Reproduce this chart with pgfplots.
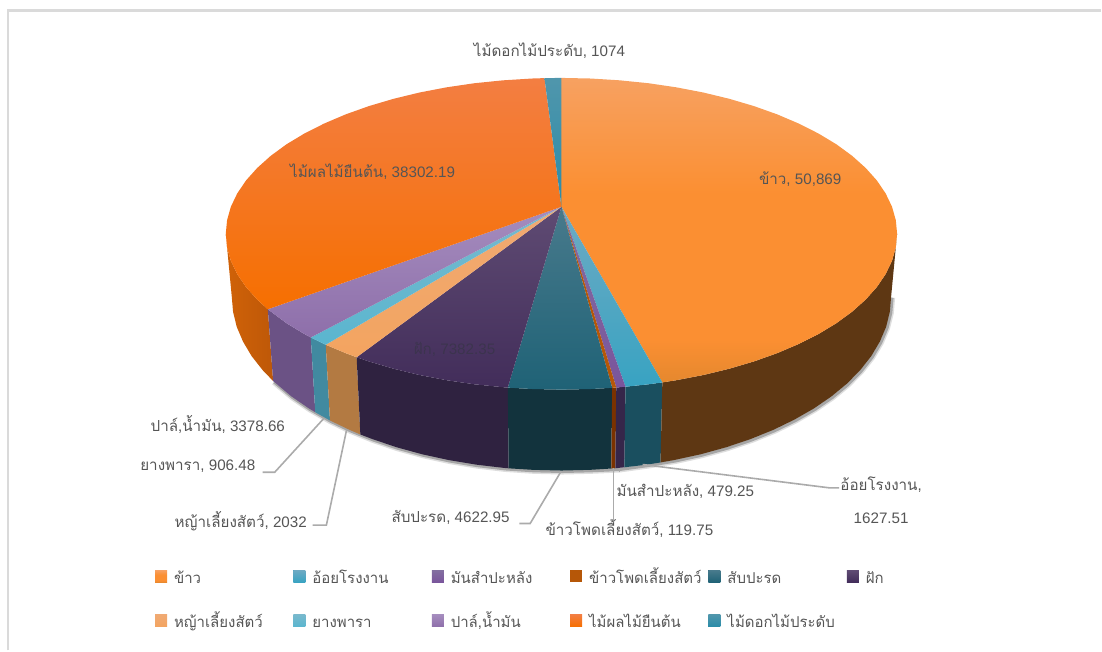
\documentclass[border=0pt]{standalone}
\usepackage{fontspec}
\setmainfont{Liberation Sans}
\newfontfamily\thaifont[Script=Thai]{Loma}
\newcommand{\thai}[1]{{\thaifont #1}}
\usepackage{pgfplots}
\pgfplotsset{compat=1.18}

\definecolor{lbl}{HTML}{555555}
\definecolor{lead}{HTML}{ABABAB}
\definecolor{frame}{HTML}{DADADA}
% legend swatches
\definecolor{cRice}{HTML}{F79646}
\definecolor{cCane}{HTML}{35A3C6}
\definecolor{cCass}{HTML}{7A559C}
\definecolor{cCorn}{HTML}{B65708}
\definecolor{cPine}{HTML}{215F75}
\definecolor{cPod}{HTML}{4F3566}
\definecolor{cGrass}{HTML}{FAAB6C}
\definecolor{cRubb}{HTML}{6CC0D6}
\definecolor{cPalm}{HTML}{A286BC}
\definecolor{cOrch}{HTML}{F96B07}
\definecolor{cFlow}{HTML}{2E88A6}
% walls
\definecolor{wOrchA}{HTML}{D06208}
\definecolor{wOrchB}{HTML}{BE5808}
\definecolor{wPalm}{HTML}{6B5285}
\definecolor{wRubb}{HTML}{418AA0}
\definecolor{wGrass}{HTML}{B37A42}
\definecolor{wPod}{HTML}{2F2240}
\definecolor{wPine}{HTML}{12333D}
\definecolor{wCorn}{HTML}{7A3200}
\definecolor{wCass}{HTML}{36264A}
\definecolor{wCane}{HTML}{1A4F5F}
\definecolor{wRice}{HTML}{5E3713}
% top faces, upper and lower shade
\definecolor{tRiceA}{HTML}{F7A161}
\definecolor{tRiceB}{HTML}{FB8F32}
\definecolor{tRiceC}{HTML}{E5882E}
\definecolor{tCaneA}{HTML}{6EAAC3}
\definecolor{tCaneB}{HTML}{38A3C2}
\definecolor{tCassA}{HTML}{826EA0}
\definecolor{tCassB}{HTML}{7A559C}
\definecolor{tPineA}{HTML}{487A8C}
\definecolor{tPineB}{HTML}{1F6276}
\definecolor{tPodA}{HTML}{5F4B73}
\definecolor{tPodB}{HTML}{422D5A}
\definecolor{tGrassA}{HTML}{F0AA73}
\definecolor{tGrassB}{HTML}{F3A460}
\definecolor{tRubbA}{HTML}{78B9CD}
\definecolor{tRubbB}{HTML}{5AB6CF}
\definecolor{tPalmA}{HTML}{A58CBE}
\definecolor{tPalmB}{HTML}{8E6FAA}
\definecolor{tOrchA}{HTML}{F37E42}
\definecolor{tOrchB}{HTML}{F87000}
\definecolor{tOrchC}{HTML}{F66F00}
\definecolor{tFlowA}{HTML}{5096AC}
\definecolor{tFlowB}{HTML}{2A8CA8}
\definecolor{podText}{HTML}{3C344E}

% the rice face stays saturated until close to its front rim
\pgfdeclareverticalshading{riceface}{100bp}{
  color(0bp)=(tRiceC); color(25bp)=(tRiceC); color(32bp)=(tRiceB);
  color(56bp)=(tRiceB); color(75bp)=(tRiceA); color(100bp)=(tRiceA)}

\pgfplotsset{
  face/.style={draw=none, no markers},
  wall/.style={draw=none, no markers, forget plot, fill=#1},
  leg/.style={legend image code/.code={\fill[fill=#1] (0pt,-6pt) rectangle (12pt,6pt);}},
  leader/.style={draw=lead, line width=1.6pt, no markers, forget plot},
}
\newcommand{\entry}[1]{\addlegendentry{\makebox[122.5pt][l]{\rule[-5pt]{0pt}{20pt}\hspace*{5pt}\thai{#1}}}}

\begin{document}
\begin{tikzpicture}
\begin{axis}[
    scale only axis, width=1102pt, height=651pt,
    xmin=0, xmax=1102, ymin=0, ymax=651, y dir=reverse,
    hide axis, clip=false,
    legend columns=6,
    legend style={
      at={(axis cs:152,564)}, anchor=north west, draw=none, fill=none,
      font=\fontsize{15}{17}\selectfont, text=lbl,
      /tikz/row sep=23pt, /tikz/column sep=0pt,
      cells={anchor=west},
    },
]
% keep the whole 1102x651 canvas as the page
\path (axis cs:0,0) (axis cs:1102,651);

% frame of the screenshot
\addplot[draw=frame, line width=2.2pt, no markers, forget plot]
  coordinates {(8,651) (8,10.5) (1102,10.5)};

% drop shadow under the body
\addplot[draw=black, draw opacity=.13, line width=6pt, no markers, forget plot, xshift=1pt, yshift=-1pt] coordinates {
  (892,297) (890.7,312.2) (887,327.2) (880.7,342) (872.1,356.5) (861.1,370.5) (847.8,384)
  (832.3,396.8) (814.8,408.8) (795.3,420) (774.1,430.3) (751.3,439.5) (727,447.7) (701.5,454.7)
  (674.9,460.5) (647.4,465.1) (619,469) (590.8,470.3) (562,471) (533.2,470.3) (504.7,468.4)
  (476.6,465.1) (449.1,460.5) (422.5,454.7) (397,447.7) (372.7,439.5) (349.9,430.3) (330.3,420.9)
  (309.2,408.8) (291.7,396.8) (273.4,381.4)};
\addplot[draw=black, draw opacity=.25, line width=3pt, no markers, forget plot, xshift=1pt, yshift=-1pt] coordinates {
  (892,297) (890.7,312.2) (887,327.2) (880.7,342) (872.1,356.5) (861.1,370.5) (847.8,384)
  (832.3,396.8) (814.8,408.8) (795.3,420) (774.1,430.3) (751.3,439.5) (727,447.7) (701.5,454.7)
  (674.9,460.5) (647.4,465.1) (619,469) (590.8,470.3) (562,471) (533.2,470.3) (504.7,468.4)
  (476.6,465.1) (449.1,460.5) (422.5,454.7) (397,447.7) (372.7,439.5) (349.9,430.3) (330.3,420.9)
  (309.2,408.8) (291.7,396.8) (273.4,381.4)};

% side walls, left to right
\addplot[draw=none, no markers, forget plot, left color=wOrchA, right color=wOrchB] coordinates {
  (268.1,309.6) (257.5,299.9) (246.3,287.4) (237.5,274.4) (231.1,261.1) (227.3,247.6) (226,234)
  (232,297) (233.3,312.2) (237,327.2) (243.3,342) (251.9,356.5) (262.9,370.5) (273.4,381.4)};
\addplot[wall=wPalm] coordinates {
  (311.1,337.8) (304.6,334.3) (286.7,323.5) (268.1,309.6) (273.4,381.4) (291.7,396.8) (309.2,408.8) (315.6,412.7)};
\addplot[wall=wRubb] coordinates {
  (326.1,345.1) (311.1,337.8) (315.6,412.7) (330.3,420.9)};
\addplot[wall=wGrass] coordinates {
  (357,357.6) (346,353.5) (326.1,345.1) (330.3,420.9) (349.9,430.3) (360.7,434.9)};
\addplot[wall=wPod] coordinates {
  (508.3,388) (503.7,387.6) (475,384.7) (447.1,380.6) (420,375.4) (394,369.1) (369.3,361.8) (357,357.6)
  (360.7,434.9) (372.7,439.5) (397,447.7) (422.5,454.7) (449.1,460.5) (476.6,465.1) (504.7,468.4) (509.2,468.8)};
\addplot[wall=wPine] coordinates {
  (612.8,388.2) (591.3,389.4) (562,390) (532.7,389.4) (508.3,388)
  (509.2,468.8) (533.2,470.3) (562,471) (590.8,470.3) (611.9,469)};
\addplot[wall=wCorn] coordinates {
  (616.9,387.9) (612.8,388.2) (611.9,469) (615.9,468.7)};
\addplot[wall=wCass] coordinates {
  (626.1,387.1) (616.9,387.9) (615.9,468.7) (625,467.8)};
\addplot[wall=wCane] coordinates {
  (663,382.8) (649,384.7) (626.1,387.1) (625,467.8) (647.4,465.1) (661.2,462.9)};
\addplot[wall=wRice] coordinates {
  (898,234) (896.7,247.6) (892.9,261.1) (886.5,274.4) (877.7,287.4) (866.5,299.9) (853,312)
  (837.3,323.5) (819.4,334.3) (799.6,344.3) (778,353.5) (754.7,361.8) (730,369.1) (704,375.4)
  (676.9,380.6) (663,382.8)
  (661.2,462.9) (674.9,460.5) (701.5,454.7) (727,447.7) (751.3,439.5) (774.1,430.3) (795.3,420)
  (814.8,408.8) (832.3,396.8) (847.8,384) (861.1,370.5) (872.1,356.5) (880.7,342) (887,327.2)
  (890.7,312.2) (892,297)};

% top faces, clockwise from twelve o'clock
\addplot[face, leg=cRice, shade, shading=riceface] coordinates {
  (562,207) (562,78) (591.3,78.6) (620.3,80.4) (649,83.3) (676.9,87.4) (704,92.6) (730,98.9)
  (754.7,106.2) (778,114.5) (799.6,123.7) (819.4,133.7) (837.3,144.5) (853,156) (866.5,168.1)
  (877.7,180.6) (886.5,193.6) (892.9,206.9) (896.7,220.4) (898,234) (896.7,247.6) (892.9,261.1)
  (886.5,274.4) (877.7,287.4) (866.5,299.9) (853,312) (837.3,323.5) (819.4,334.3) (799.6,344.3)
  (778,353.5) (754.7,361.8) (730,369.1) (704,375.4) (676.9,380.6) (663,382.8)};
\entry{ข้าว}
\addplot[face, leg=cCane, top color=tCaneA, bottom color=tCaneB] coordinates {
  (562,207) (663,382.8) (649,384.7) (626.1,387.1)};
\entry{อ้อยโรงงาน}
\addplot[face, leg=cCass, top color=tCassA, bottom color=tCassB] coordinates {
  (562,207) (626.1,387.1) (616.9,387.9)};
\entry{มันสำปะหลัง}
\addplot[face, leg=cCorn, fill=cCorn] coordinates {
  (562,207) (616.9,387.9) (612.8,388.2)};
\entry{ข้าวโพดเลี้ยงสัตว์}
\addplot[face, leg=cPine, top color=tPineA, bottom color=tPineB] coordinates {
  (562,207) (612.8,388.2) (591.3,389.4) (562,390) (532.7,389.4) (508.3,388)};
\entry{สับปะรด}
\addplot[face, leg=cPod, top color=tPodA, bottom color=tPodB] coordinates {
  (562,207) (508.3,388) (503.7,387.6) (475,384.7) (447.1,380.6) (420,375.4) (394,369.1) (369.3,361.8) (357,357.6)};
\entry{ฝัก}
\addplot[face, leg=cGrass, top color=tGrassA, bottom color=tGrassB] coordinates {
  (562,207) (357,357.6) (346,353.5) (326.1,345.1)};
\entry{หญ้าเลี้ยงสัตว์}
\addplot[face, leg=cRubb, top color=tRubbA, bottom color=tRubbB] coordinates {
  (562,207) (326.1,345.1) (311.1,337.8)};
\entry{ยางพารา}
\addplot[face, leg=cPalm, top color=tPalmA, bottom color=tPalmB] coordinates {
  (562,207) (311.1,337.8) (304.6,334.3) (286.7,323.5) (268.1,309.6)};
\entry{ปาล์,น้ำมัน}
\addplot[face, leg=cOrch, top color=tOrchA, middle color=tOrchB, bottom color=tOrchC] coordinates {
  (562,207) (268.1,309.6) (257.5,299.9) (246.3,287.4) (237.5,274.4) (231.1,261.1) (227.3,247.6) (226,234)
  (227.3,220.4) (231.1,206.9) (237.5,193.6) (246.3,180.6) (257.5,168.1) (271,156) (286.7,144.5)
  (304.6,133.7) (324.4,123.7) (346,114.5) (369.3,106.2) (394,98.9) (420,92.6) (447.1,87.4)
  (475,83.3) (503.7,80.4) (532.7,78.6) (545,78.2)};
\entry{ไม้ผลไม้ยืนต้น}
\addplot[face, leg=cFlow, top color=tFlowA, bottom color=tFlowB] coordinates {
  (562,207) (545,78.2) (562,78)};
\entry{ไม้ดอกไม้ประดับ}

% leader lines
\addplot[leader] coordinates {(263,472.7) (275,472.7) (324,419)};
\addplot[leader] coordinates {(313,525.7) (326.7,525.7) (347,430)};
\addplot[leader] coordinates {(520,524) (530.7,524) (561.7,471.7)};
\addplot[leader] coordinates {(614,468) (614,521.7)};
\addplot[leader] coordinates {(620,468) (620,472)};
\addplot[leader] coordinates {(643.3,465) (830,488.3) (840,488.3)};

% data labels
\begin{scope}[every node/.style={text=lbl, font=\fontsize{15.2}{17}\selectfont, inner sep=0pt}]
\node at (axis cs:550,51) {\thai{ไม้ดอกไม้ประดับ}, 1074};
\node at (axis cs:801,179) {\thai{ข้าว}, 50,869};
\node at (axis cs:373,172) {\thai{ไม้ผลไม้ยืนต้น}, 38302.19};
\node[text=podText] at (axis cs:455,350) {\thai{ฝัก}, 7382.35};
\node at (axis cs:218,425) {\thai{ปาล์,น้ำมัน}, 3378.66};
\node at (axis cs:198,467) {\thai{ยางพารา}, 906.48};
\node at (axis cs:241,522) {\thai{หญ้าเลี้ยงสัตว์}, 2032};
\node at (axis cs:451,518) {\thai{สับปะรด}, 4622.95};
\node at (axis cs:630,529) {\thai{ข้าวโพดเลี้ยงสัตว์}, 119.75};
\node at (axis cs:686,492) {\thai{มันสำปะหลัง}, 479.25};
\node at (axis cs:882,485) {\thai{อ้อยโรงงาน},};
\node at (axis cs:882,519) {1627.51};
\end{scope}
\end{axis}
\end{tikzpicture}
\end{document}
